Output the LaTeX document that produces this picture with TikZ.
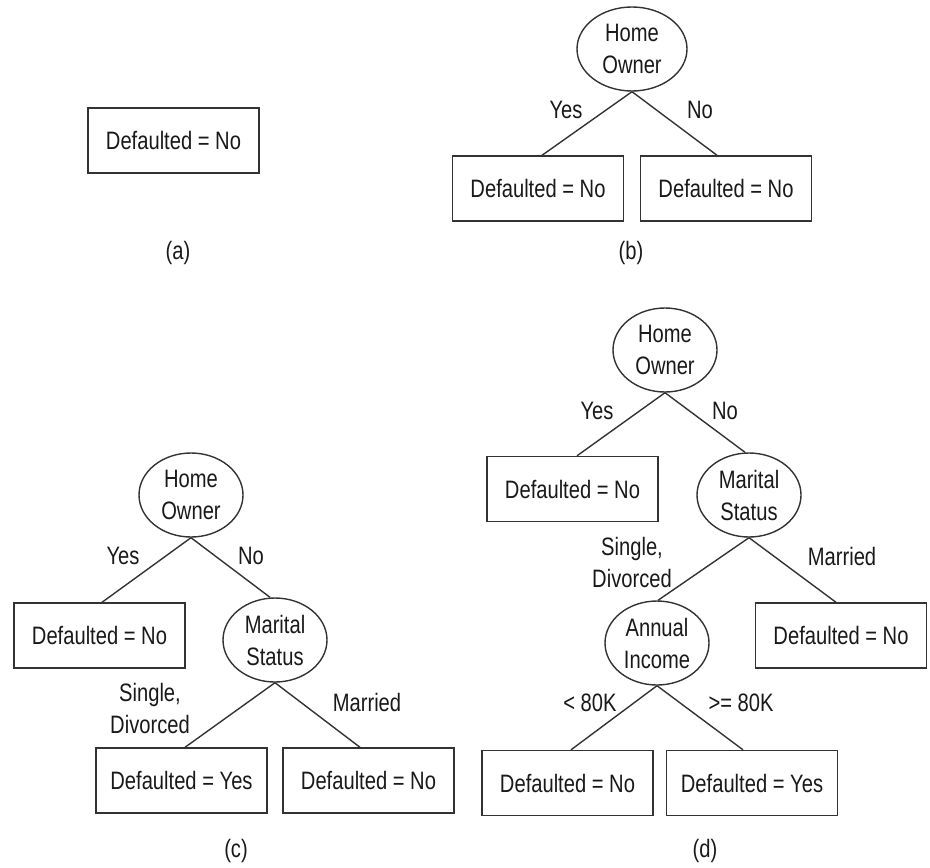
\documentclass[tikz,border=0pt]{standalone}
\usepackage{fontspec}
\setmainfont[FakeStretch=0.8]{Liberation Sans}
\usetikzlibrary{shapes.geometric}

\begin{document}
\begin{tikzpicture}[x=0.5pt, y=-0.5pt,
	every node/.style={font=\fontsize{12.6}{16}\selectfont, text=black!90, align=center},
	leaf/.style={draw=black!80, line width=0.7pt, rectangle, minimum width=85.5pt, minimum height=32.5pt, inner sep=0pt},
	split/.style={draw=black!80, line width=0.7pt, ellipse, minimum width=52pt, minimum height=42pt, inner sep=0pt},
	branch/.style={draw=black!80, line width=0.7pt}]

	\useasboundingbox (0,0) rectangle (930,867);

	% (a) the tree is a single leaf
	\node[leaf] (leafA) at (173.5,140.5) {Defaulted = No};
	\node (capA) at (178,253) {(a)};

	% (b) split on home owner
	\node[split, minimum width=55pt] (ownerB) at (632,49) {Home\\Owner};
	\node[leaf] (leafBa) at (538,188.5) {Defaulted = No};
	\node[leaf] (leafBb) at (726,188.5) {Defaulted = No};
	\draw[branch] (ownerB.south) -- ([xshift=2pt]leafBa.north);
	\draw[branch] (ownerB.south) -- ([xshift=-4.5pt]leafBb.north);
	\node (yesB) at (566,110) {Yes};
	\node (noB) at (700,110) {No};
	\node (capB) at (631,253) {(b)};

	% (c) then split on marital status
	\node[split] (ownerC) at (191,495) {Home\\Owner};
	\node[leaf] (leafCa) at (99.5,635.5) {Defaulted = No};
	\node[split] (maritalC) at (275,640) {Marital\\Status};
	\node[leaf] (leafCb) at (181.5,780.5) {Defaulted = Yes};
	\node[leaf] (leafCc) at (368.5,780.5) {Defaulted = No};
	\draw[branch] (ownerC.south) -- ([xshift=1.25pt]leafCa.north);
	\draw[branch] (ownerC.south) -- ([xshift=-2.5pt]maritalC.north);
	\draw[branch] (maritalC.south) -- ([xshift=1.75pt]leafCb.north);
	\draw[branch] (maritalC.south) -- ([xshift=-4.25pt]leafCc.north);
	\node (yesC) at (123,556) {Yes};
	\node (noC) at (251,556) {No};
	\node (singleC) at (150,708) {Single,\\Divorced};
	\node (marriedC) at (367,702) {Married};
	\node (capC) at (236,851) {(c)};

	% (d) and last on annual income
	\node[split] (ownerD) at (665,350) {Home\\Owner};
	\node[leaf] (leafDa) at (572.5,489) {Defaulted = No};
	\node[split] (maritalD) at (749,495) {Marital\\Status};
	\node[split] (incomeD) at (657,643) {Annual\\Income};
	\node[leaf] (leafDb) at (841,635.5) {Defaulted = No};
	\node[leaf] (leafDc) at (567.5,783) {Defaulted = No};
	\node[leaf] (leafDd) at (752,783) {Defaulted = Yes};
	\draw[branch] (ownerD.south) -- ([xshift=2.25pt]leafDa.north);
	\draw[branch] (ownerD.south) -- ([xshift=-2pt]maritalD.north);
	\draw[branch] (maritalD.south) -- ([xshift=0.5pt]incomeD.north);
	\draw[branch] (maritalD.south) -- ([xshift=-2.5pt]leafDb.north);
	\draw[branch] (incomeD.south) -- ([xshift=1.75pt]leafDc.north);
	\draw[branch] (incomeD.south) -- ([xshift=-4.5pt]leafDd.north);
	\node (yesD) at (597,411) {Yes};
	\node (noD) at (725,411) {No};
	\node (singleD) at (632,562) {Single,\\Divorced};
	\node (marriedD) at (842,556) {Married};
	\node (lowD) at (590,703) {< 80K};
	\node (highD) at (741,703) {>= 80K};
	\node (capD) at (705,851) {(d)};
\end{tikzpicture}
\end{document}
